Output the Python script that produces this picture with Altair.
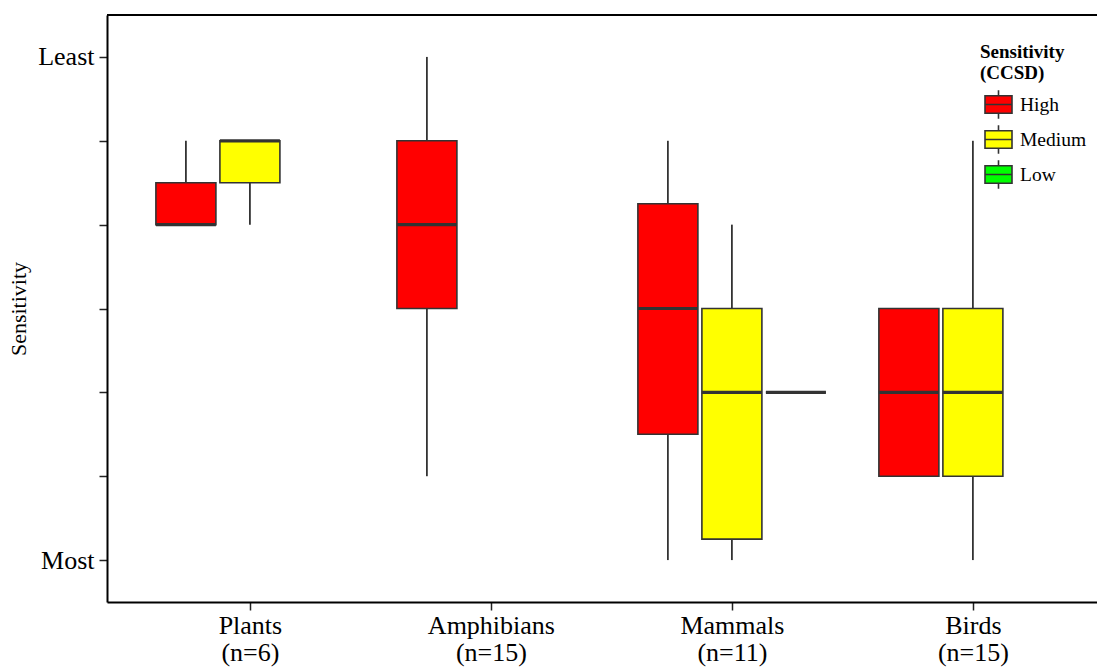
import altair as alt
import pandas as pd

# ---- data ----
taxa = ["Plants", "Amphibians", "Mammals", "Birds"]
taxa_n = [6, 15, 11, 15]
groups = ["High", "Medium", "Low"]
group_colors = ["#FF0000", "#FFFF00", "#00FF00"]

box_taxon = ["Plants", "Plants", "Amphibians", "Mammals", "Mammals", "Mammals", "Birds", "Birds"]
box_group = ["High", "Medium", "High", "High", "Medium", "Low", "High", "Medium"]
box_lower = [5, 5, 2, 1, 1, 3, 2, 1]
box_q1 = [5, 5.5, 4, 2.5, 1.25, 3, 2, 2]
box_median = [5, 6, 5, 4, 3, 3, 3, 3]
box_q3 = [5.5, 6, 6, 5.25, 4, 3, 4, 4]
box_upper = [6, 6, 7, 6, 5, 3, 4, 6]

y_tick_values = [1, 2, 3, 4, 5, 6, 7]
y_tick_labels = {1: "Most", 7: "Least"}

DODGE = 0.2656
HALF = 0.1245

df = pd.DataFrame({
    "taxon": box_taxon, "group": box_group,
    "lower": box_lower, "q1": box_q1, "median": box_median,
    "q3": box_q3, "upper": box_upper,
})
df["xc"] = [taxa.index(t) + 1 + (groups.index(g) - 1) * DODGE for t, g in zip(box_taxon, box_group)]
df["xl"] = df["xc"] - HALF
df["xr"] = df["xc"] + HALF

FONT = "Liberation Serif"
W, H = 990, 587

x_expr = ""
for i, (t, n) in enumerate(zip(taxa, taxa_n)):
    x_expr += f"datum.value == {i + 1} ? ['{t}', '(n={n})'] : "
x_expr += "''"

y_expr = ""
for v, lab in y_tick_labels.items():
    y_expr += f"datum.value == {v} ? '{lab}' : "
y_expr += "''"

xscale = alt.Scale(domain=[0.407, 4.515], nice=False, zero=False)
yscale = alt.Scale(domain=[0.5, 7.5], nice=False, zero=False)

x_axis = alt.Axis(values=[1, 2, 3, 4], labelExpr=x_expr, title=None, grid=False,
                  domainColor="black", domainWidth=2, tickColor="#222222", tickWidth=1.5,
                  tickSize=8, labelFont=FONT, labelFontSize=26, labelColor="black",
                  labelLineHeight=27, labelPadding=2, labelFlush=False)
y_axis = alt.Axis(values=y_tick_values, labelExpr=y_expr, title="Sensitivity", grid=False,
                  domainColor="black", domainWidth=2, tickColor="#222222", tickWidth=1.5,
                  tickSize=8, labelFont=FONT, labelFontSize=26, labelColor="black",
                  labelPadding=5, titleFont=FONT, titleFontSize=22, titleFontWeight="normal",
                  titleColor="black", titlePadding=7)

base = alt.Chart(df)

whisk_hi = base.mark_rule(color="#333333", strokeWidth=1.8).encode(
    x=alt.X("xc:Q", scale=xscale, axis=x_axis),
    y=alt.Y("q3:Q", scale=yscale, axis=y_axis),
    y2="upper:Q",
)
whisk_lo = base.mark_rule(color="#333333", strokeWidth=1.8).encode(
    x=alt.X("xc:Q", scale=xscale),
    y=alt.Y("lower:Q", scale=yscale),
    y2="q1:Q",
)

legend_path = "M-1,-0.65H1V0.65H-1Z M-1,0H1 M0,-0.65V-1.05 M0,0.65V1.05"

boxes = base.mark_bar(stroke="#333333", strokeWidth=1.6).encode(
    x=alt.X("xl:Q", scale=xscale),
    x2="xr:Q",
    y=alt.Y("q1:Q", scale=yscale),
    y2="q3:Q",
    fill=alt.Fill("group:N", scale=alt.Scale(domain=groups, range=group_colors),
                  legend=alt.Legend(
                      title=["Sensitivity", "(CCSD)"], orient="none", legendX=873, legendY=28,
                      titleFont=FONT, titleFontSize=19, titleFontWeight="bold", titleColor="black",
                      titleLineHeight=21, titlePadding=7,
                      labelFont=FONT, labelFontSize=19.5, labelColor="black", labelOffset=7,
                      symbolType=legend_path, symbolSize=729, symbolStrokeColor="#333333",
                      symbolStrokeWidth=1.6, symbolOffset=4, rowPadding=0)),
)

medians = base.mark_rule(color="#333333", strokeWidth=3.2).encode(
    x=alt.X("xl:Q", scale=xscale),
    x2="xr:Q",
    y=alt.Y("median:Q", scale=yscale),
)

top_border = alt.Chart(pd.DataFrame({"k": [0]})).mark_rule(color="black", strokeWidth=2).encode(
    x=alt.value(0), x2=alt.value(W), y=alt.value(0)
)

chart = alt.layer(whisk_hi, whisk_lo, boxes, medians, top_border).properties(
    width=W, height=H,
    autosize=alt.AutoSizeParams(type="none"),
    padding={"left": 107, "top": 15, "right": 0, "bottom": 66},
    background="white",
).configure_view(stroke=None)

chart.save("out.html", embed_options={"renderer": "svg", "actions": False})
